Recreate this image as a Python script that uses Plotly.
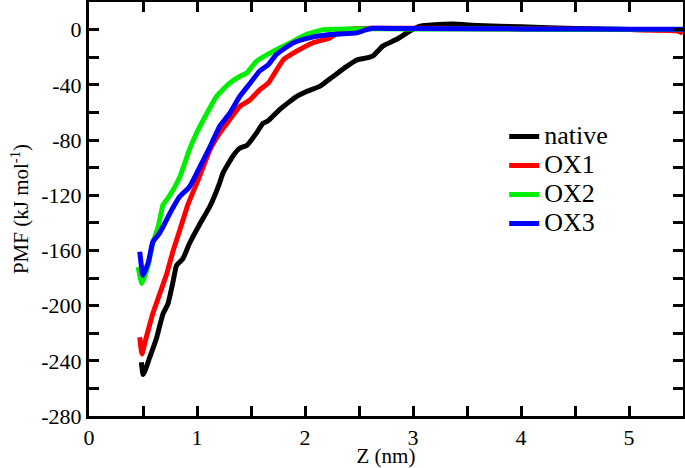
import plotly.graph_objects as go

# ---- data ----
native_x = [0.485, 0.50, 0.52, 0.56, 0.62, 0.685, 0.73, 0.78, 0.81, 0.87, 0.93, 1.025, 1.12, 1.21, 1.24,
            1.33, 1.395, 1.46, 1.55, 1.61, 1.66, 1.765, 1.92, 2.01, 2.14, 2.26, 2.38, 2.48, 2.57, 2.63,
            2.72, 2.85, 2.97, 3.06, 3.2, 3.37, 3.6, 4.0, 4.5, 5.0, 5.45, 5.5]
native_y = [-241, -250, -247, -238, -225, -206, -199, -182, -171, -166, -155, -141, -128, -111, -104,
            -92, -86, -84, -75, -68, -66, -58, -48.5, -45, -41, -34, -27, -22, -20.5, -19,
            -12, -7, -1, 2.4, 3.5, 4, 3, 2, 0.8, 0, -0.3, 0]

ox1_x = [0.47, 0.49, 0.53, 0.59, 0.655, 0.72, 0.78, 0.84, 0.92, 1.01, 1.12, 1.21, 1.30, 1.395, 1.49,
         1.58, 1.66, 1.70, 1.80, 1.92, 2.07, 2.23, 2.32, 2.44, 2.6, 3.0, 3.5, 4.0, 4.5, 5.0, 5.3, 5.45, 5.5]
ox1_y = [-223, -235, -223, -206, -191.5, -177, -160, -145.5, -126, -109, -87, -75, -65.5, -55.8, -51,
         -43.6, -38.8, -34, -21.8, -15.8, -9.7, -6, -1.2, 0.5, 1, 1, 0.8, 0.5, 0.3, 0, -0.5, -1, -2.5]

ox2_x = [0.455, 0.49, 0.55, 0.59, 0.64, 0.67, 0.685, 0.75, 0.84, 0.93, 0.99, 1.09, 1.18, 1.30, 1.395,
         1.46, 1.55, 1.70, 1.86, 2.01, 2.17, 2.4, 3.0, 4.0, 5.0, 5.5]
ox2_y = [-172, -184, -170, -155, -143, -132, -127, -120, -107, -87, -76, -61, -48.5, -39, -34,
         -31.5, -23, -16, -9.7, -3.6, 0, 0.5, 0.5, 0.3, 0, 0]

ox3_x = [0.47, 0.50, 0.55, 0.59, 0.64, 0.685, 0.75, 0.84, 0.93, 1.03, 1.12, 1.21, 1.30, 1.395, 1.49,
         1.58, 1.66, 1.735, 1.89, 2.04, 2.23, 2.48, 2.57, 2.63, 3.0, 4.0, 5.0, 5.5]
ox3_y = [-161, -178, -168.5, -154, -149, -143, -133, -121, -114, -99, -85, -70, -61, -48.5, -39,
         -30, -25.5, -18, -9.7, -6, -3.6, -2.4, 0, 1, 0.8, 0.5, 0.3, 0.3]

series_names = ["native", "OX1", "OX2", "OX3"]
series_colors = ["#000000", "#ff0000", "#00ee00", "#0000ff"]

x_tickvals = [0, 1, 2, 3, 4, 5]
x_ticktext = ["0", "1", "2", "3", "4", "5"]
y_tickvals = [-280, -240, -200, -160, -120, -80, -40, 0]
y_ticktext = ["-280", "-240", "-200", "-160", "-120", "-80", "-40", "0"]

FONT = "Liberation Serif, Times New Roman, serif"

fig = go.Figure()
for name, color, xs, ys in zip(series_names, series_colors,
                               [native_x, ox1_x, ox2_x, ox3_x],
                               [native_y, ox1_y, ox2_y, ox3_y]):
    fig.add_trace(go.Scatter(x=xs, y=ys, mode="lines",
                             name='<span style="font-size:26px">' + name + '</span>',
                             line=dict(color=color, width=5, shape="spline", smoothing=0.4)))

def axis_common(minor_dtick):
    return dict(showline=True, linecolor="black", linewidth=3, mirror="ticks",
                ticks="inside", ticklen=10, tickwidth=3, tickcolor="black",
                minor=dict(ticks="inside", ticklen=10, tickwidth=3, tickcolor="black",
                           dtick=minor_dtick, showgrid=False),
                showgrid=False, zeroline=False, automargin=False,
                tickfont=dict(family=FONT, size=22, color="black"))

fig.update_layout(
    width=685, height=468,
    margin=dict(l=89, r=2, t=2, b=52),
    plot_bgcolor="white", paper_bgcolor="white",
    font=dict(family=FONT, size=20, color="black"),
    xaxis=dict(range=[0, 5.5], tickmode="array", tickvals=x_tickvals, ticktext=x_ticktext,
               title=dict(text="Z (nm)", font=dict(family=FONT, size=21), standoff=1),
               **axis_common(0.5)),
    yaxis=dict(range=[-280, 20], tickmode="array", tickvals=y_tickvals, ticktext=y_ticktext,
               title=dict(text="PMF (kJ mol<sup>-1</sup>)", font=dict(family=FONT, size=21), standoff=7),
               **axis_common(20)),
    legend=dict(x=0.699, y=0.722, xanchor="left", yanchor="top", bgcolor="rgba(0,0,0,0)",
                font=dict(family=FONT, size=20, color="black"), itemwidth=30,
                tracegroupgap=0),
    showlegend=True,
)

fig.write_html("out.html", config={"displayModeBar": False},
               post_script="document.body.style.margin='0px';")
